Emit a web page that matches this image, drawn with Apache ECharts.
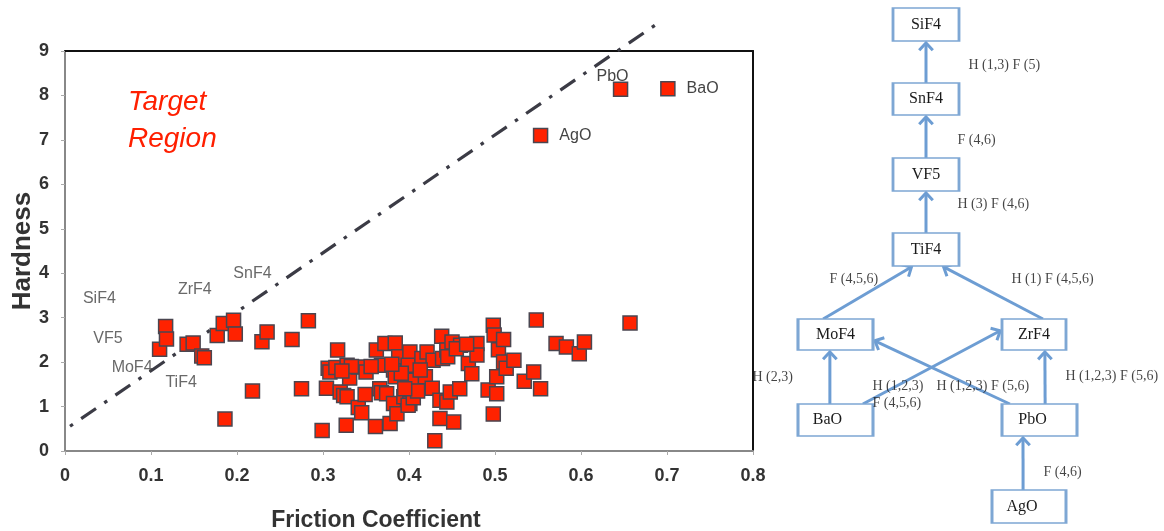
<!DOCTYPE html>
<html>
<head>
<meta charset="utf-8">
<script src="https://cdn.jsdelivr.net/npm/echarts@6/dist/echarts.min.js"></script>
<style>
html,body{margin:0;padding:0;background:#fff;}
#chart{width:1164px;height:531px;}
</style>
</head>
<body>
<div id="chart"></div>
<script>
// ---------- Scatter data: [friction coefficient, hardness] ----------
const compounds = [
[0.110,2.29],[0.117,2.80],[0.118,2.52],[0.142,2.40],[0.149,2.43],[0.159,2.14],[0.162,2.10],[0.177,2.60],[0.184,2.87],[0.196,2.94],[0.198,2.63],[0.186,0.72],[0.218,1.35],[0.229,2.46],[0.235,2.68],[0.264,2.51],[0.275,1.40],[0.283,2.93],
[0.299,0.46],[0.317,2.27],[0.304,1.41],[0.306,1.86],[0.308,1.78],[0.315,1.88],[0.320,1.33],[0.324,1.25],[0.327,0.58],[0.328,1.93],[0.331,1.64],[0.328,1.22],[0.341,1.89],[0.341,0.98],[0.345,0.86],[0.349,1.27],[0.350,1.78],[0.361,0.55],[0.362,2.27],[0.368,1.93],[0.366,1.40],[0.368,1.31],[0.372,2.42],[0.374,1.29],[0.378,0.62],[0.382,1.82],[0.382,1.07],[0.384,2.43],[0.384,1.67],[0.386,0.84],[0.388,2.12],[0.394,1.22],[0.397,1.59],
[0.401,2.23],[0.399,1.93],[0.401,1.07],[0.399,1.03],[0.407,1.59],[0.415,2.08],[0.419,1.67],[0.421,2.23],[0.427,1.41],[0.428,2.04],[0.430,0.23],[0.436,1.14],[0.436,0.73],[0.438,2.58],[0.439,2.08],[0.444,2.27],[0.444,1.10],[0.448,1.33],[0.450,2.45],[0.452,0.65],[0.459,1.40],[0.460,2.38],[0.469,1.97],[0.473,1.74],[0.479,2.42],[0.479,2.16],[0.492,1.37],[0.498,2.83],[0.499,2.61],[0.498,0.83],[0.502,1.67],[0.502,1.29],[0.504,2.28],[0.510,2.51],[0.510,2.00],[0.513,1.86],[0.522,2.04],
[0.534,1.57],[0.545,1.78],[0.553,1.40],[0.548,2.95],[0.571,2.42],[0.583,2.34],[0.598,2.19],[0.604,2.45],[0.657,2.88],
[0.391,1.75],[0.413,1.82],[0.380,1.95],[0.356,1.90],[0.333,1.90],[0.322,1.80],[0.405,1.20],[0.445,2.12],[0.455,2.30],[0.467,2.40],[0.410,1.35],[0.395,1.40]
];
const oxideNames = ["AgO","PbO","BaO"];
const oxideValues = [[0.553,7.10],[0.646,8.14],[0.701,8.15]];
// text-only annotations placed in data space
const fluorideNames = ["SiF4","VF5","MoF4","TiF4","ZrF4","SnF4"];
const fluorideValues = [[0.040,3.44],[0.050,2.54],[0.078,1.88],[0.135,1.53],[0.151,3.64],[0.218,4.00]];
// dash-dot boundary line endpoints
const boundaryLine = [[-0.021,0.20],[0.689,9.62]];
const xTicks = {min:0, max:0.8, interval:0.1};
const yTicks = {min:0, max:9, interval:1};

// ---------- Diagram data (diagram units) ----------
const nodeNames = ["SiF4","SnF4","VF5","TiF4","MoF4","ZrF4","BaO","PbO","AgO"];
const nodePos   = [[176,24.5],[176,99],[176,174.5],[176,249.5],[85.5,334.5],[284,334.5],[85.5,420],[289.5,420],[279,506.5]];
// edges: [from, to, fromPort, toPort] ports are fractions of half-width / half-height
const edges = [
 ["SnF4","SiF4",[0,-1],[0,1]],
 ["VF5","SnF4",[0,-1],[0,1]],
 ["TiF4","VF5",[0,-1],[0,1]],
 ["MoF4","TiF4",[-0.33,-1],[-0.39,1]],
 ["ZrF4","TiF4",[0.28,-1],[0.48,1]],
 ["BaO","MoF4",[-0.15,-1],[-0.15,1]],
 ["PbO","ZrF4",[0.15,-1],[0.34,1]],
 ["BaO","ZrF4",[0.73,-1],[-1,-0.3]],
 ["PbO","MoF4",[-0.79,-1],[1,0.35]],
 ["AgO","PbO",[-0.16,-1],[-0.44,1]]
];
const edgeLabelTexts = ["H (1,3) F (5)","F (4,6)","H (3) F (4,6)","F (4,5,6)","H (1) F (4,5,6)","H (2,3)","H (1,2,3)","F (4,5,6)","H (1,2,3) F (5,6)","H (1,2,3) F (5,6)","F (4,6)"];
const edgeLabelPos = [[218,65],[207,140],[207,204],[79,279],[261,279],[2,377],[122,386],[122,403],[186,386],[315,376],[293,472]];

// ---------- styles ----------
const nodeBox = {
 SiF4:{w:66,h:33,dx:0}, SnF4:{w:66,h:32,dx:0}, VF5:{w:66,h:33,dx:0}, TiF4:{w:66,h:33,dx:0},
 MoF4:{w:75,h:31,dx:0}, ZrF4:{w:64,h:31,dx:0}, BaO:{w:75,h:32,dx:-8}, PbO:{w:75,h:32,dx:-7}, AgO:{w:74,h:33,dx:-7}
};
const edgeColor = '#6d9dd3';
const boxColor = '#7ea7d4';

function portPoint(name, port){
  const i = nodeNames.indexOf(name);
  const b = nodeBox[name];
  return [nodePos[i][0] + port[0]*b.w/2, nodePos[i][1] + port[1]*b.h/2];
}
const edgeData = edges.map(e => {
  const a = portPoint(e[0], e[2]);
  const b = portPoint(e[1], e[3]);
  return [a[0], a[1], b[0], b[1]];
});

const chart = echarts.init(document.getElementById('chart'), null, {renderer:'canvas'});
const axisFont = {fontFamily:'Liberation Sans, Arial, sans-serif', fontWeight:'bold', fontSize:18, color:'#333'};

const option = {
  animation:false,
  backgroundColor:'#fff',
  grid:[
    {left:65, right:411, top:51, bottom:80, containLabel:false, outerBoundsMode:'none'},
    {left:750, top:0, width:414, height:531, containLabel:false, outerBoundsMode:'none'}
  ],
  xAxis:[
    {type:'value', gridIndex:0, min:xTicks.min, max:xTicks.max, interval:xTicks.interval,
     name:'Friction Coefficient', nameLocation:'middle', nameGap:58,
     nameTextStyle:{fontFamily:'Liberation Sans, Arial, sans-serif', fontWeight:'bold', fontSize:23, color:'#333', padding:[0,66,0,0]},
     axisLine:{show:true, onZero:false, lineStyle:{color:'#888', width:2}},
     axisTick:{show:true, inside:false, length:4, lineStyle:{color:'#aaa'}},
     axisLabel:Object.assign({margin:16}, axisFont),
     splitLine:{show:false}},
    {type:'value', gridIndex:0, position:'top', min:xTicks.min, max:xTicks.max,
     axisLine:{show:true, onZero:false, lineStyle:{color:'#111', width:2}},
     axisTick:{show:false}, axisLabel:{show:false}, splitLine:{show:false}},
    {type:'value', gridIndex:1, min:0, max:414, show:false}
  ],
  yAxis:[
    {type:'value', gridIndex:0, min:yTicks.min, max:yTicks.max, interval:yTicks.interval,
     name:'Hardness', nameLocation:'middle', nameGap:29, nameMoveOverlap:false,
     nameTextStyle:{fontFamily:'Liberation Sans, Arial, sans-serif', fontWeight:'bold', fontSize:26, color:'#333'},
     axisLine:{show:true, onZero:false, lineStyle:{color:'#888', width:2}},
     axisTick:{show:true, inside:false, length:4, lineStyle:{color:'#aaa'}},
     axisLabel:Object.assign({margin:16}, axisFont),
     splitLine:{show:false}},
    {type:'value', gridIndex:0, position:'right', min:yTicks.min, max:yTicks.max,
     axisLine:{show:true, onZero:false, lineStyle:{color:'#111', width:2}},
     axisTick:{show:false}, axisLabel:{show:false}, splitLine:{show:false}},
    {type:'value', gridIndex:1, min:0, max:531, inverse:true, show:false}
  ],
  graphic:[
    {type:'text', left:128, top:84, z:10,
     style:{text:'Target\nRegion', fill:'#ff1f00', font:'italic 28px "Liberation Sans", Arial, sans-serif', lineHeight:37}}
  ],
  series:[
    {type:'line', xAxisIndex:0, yAxisIndex:0, data:boundaryLine, clip:false, symbol:'none', z:1,
     lineStyle:{color:'#3b3b45', width:3.2, type:[18,10,3.5,10]}},
    {type:'scatter', xAxisIndex:0, yAxisIndex:0, data:compounds, symbol:'rect', symbolSize:14, z:3,
     itemStyle:{color:'#ff2200', borderColor:'#4a4650', borderWidth:1.5, opacity:1}},
    {type:'scatter', xAxisIndex:0, yAxisIndex:0, symbol:'rect', symbolSize:14, z:3,
     data: oxideValues.map((v,i)=>({name:oxideNames[i], value:v,
        label: i===1 ? {position:'top', distance:0, offset:[-8,3]} : {position:'right', distance:11}})),
     itemStyle:{color:'#ff2200', borderColor:'#4a4650', borderWidth:1.5, opacity:1},
     label:{show:true, formatter:'{b}', fontFamily:'Liberation Sans, Arial, sans-serif', fontSize:16, color:'#444'}},
    {type:'scatter', xAxisIndex:0, yAxisIndex:0, symbolSize:1, z:4, silent:true,
     data: fluorideValues.map((v,i)=>({name:fluorideNames[i], value:v})),
     itemStyle:{color:'rgba(0,0,0,0)', borderWidth:0},
     label:{show:true, position:'inside', formatter:'{b}', fontFamily:'Liberation Sans, Arial, sans-serif', fontSize:16, color:'#444'}},
    // diagram edges
    {type:'custom', xAxisIndex:2, yAxisIndex:2, data:edgeData, z:2, clip:false,
     renderItem:function(params, api){
       const p1 = api.coord([api.value(0), api.value(1)]);
       const p2o = api.coord([api.value(2), api.value(3)]);
       const ang = Math.atan2(p2o[1]-p1[1], p2o[0]-p1[0]);
       const p2 = [p2o[0]-2*Math.cos(ang), p2o[1]-2*Math.sin(ang)];
       const L = 10, a = Math.PI/4.2;
       const h1 = [p2[0]-L*Math.cos(ang-a), p2[1]-L*Math.sin(ang-a)];
       const h2 = [p2[0]-L*Math.cos(ang+a), p2[1]-L*Math.sin(ang+a)];
       return {type:'group', children:[
         {type:'line', shape:{x1:p1[0],y1:p1[1],x2:p2[0],y2:p2[1]}, style:{stroke:edgeColor, lineWidth:3}},
         {type:'polyline', shape:{points:[h1,p2,h2]}, style:{stroke:edgeColor, lineWidth:3, fill:null, lineJoin:'miter'}}
       ]};
     }},
    // diagram nodes
    {type:'scatter', xAxisIndex:2, yAxisIndex:2, z:5, symbol:'rect',
     data: nodeNames.map((n,i)=>({name:n, value:nodePos[i], symbolSize:[nodeBox[n].w, nodeBox[n].h],
        label:{offset:[nodeBox[n].dx,0]}})),
     itemStyle:{color:'#fff', borderColor:boxColor, borderWidth:2, opacity:1},
     label:{show:true, position:'inside', formatter:'{b}', fontFamily:'Liberation Serif, "DejaVu Serif", serif', fontSize:16, color:'#1a1a1a'}},
    // diagram edge labels
    {type:'scatter', xAxisIndex:2, yAxisIndex:2, z:6, symbolSize:1, silent:true,
     data: edgeLabelTexts.map((t,i)=>({name:t, value:edgeLabelPos[i]})),
     itemStyle:{color:'rgba(0,0,0,0)', borderWidth:0},
     label:{show:true, position:'right', distance:0, formatter:'{b}', fontFamily:'Liberation Serif, "DejaVu Serif", serif', fontSize:14, color:'#151515'}}
  ]
};
chart.setOption(option);
</script>
</body>
</html>
